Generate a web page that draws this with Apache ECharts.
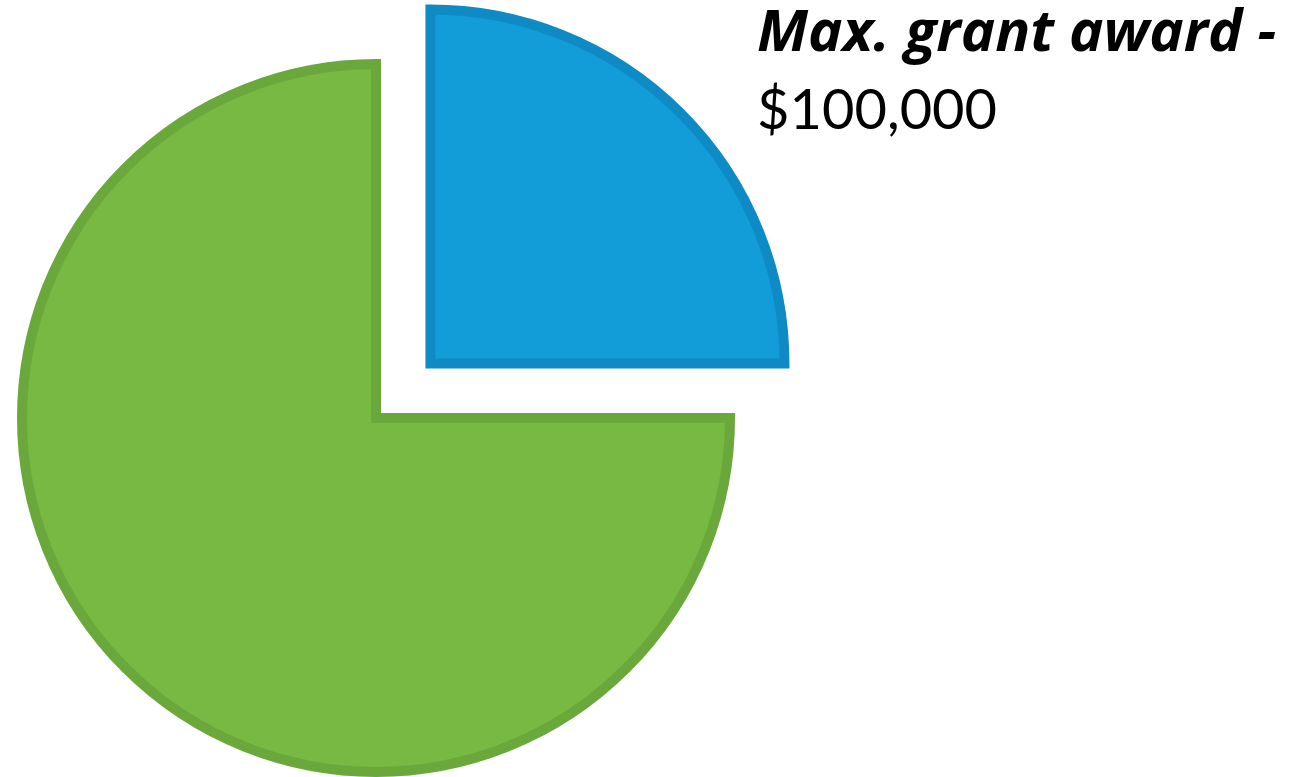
<!DOCTYPE html>
<html>
<head>
<meta charset="utf-8">
<script src="https://cdn.jsdelivr.net/npm/echarts@6/dist/echarts.min.js"></script>
<style>
html,body{margin:0;padding:0;background:#fff;}
#chart{width:1289px;height:777px;}
</style>
</head>
<body>
<div id="chart"></div>
<script>
const categories = ['Max. grant award', 'Other'];
const values = [100000, 300000];
const colors = ['#129dd8', '#77b943'];
const borderColors = ['#0e8bc4', '#6aa83b'];

const chart = echarts.init(document.getElementById('chart'), null, {renderer: 'canvas'});

const fmt = v => '$' + v.toLocaleString('en-US');

chart.setOption({
  animation: false,
  backgroundColor: '#ffffff',
  graphic: [
    {
      type: 'text',
      left: 757,
      top: 5,
      style: {
        text: categories[0] + ' -',
        font: 'italic bold 58px "Open Sans"',
        fill: '#000000'
      }
    },
    {
      type: 'text',
      left: 757,
      top: 83,
      style: {
        text: fmt(values[0]),
        font: '56px Lato',
        fill: '#000000'
      }
    }
  ],
  series: [{
    type: 'pie',
    center: [376, 418],
    radius: ['0%', 354],
    startAngle: 90,
    clockwise: true,
    selectedMode: 'single',
    selectedOffset: 77,
    silent: true,
    label: {show: false},
    labelLine: {show: false},
    emphasis: {disabled: true},
    data: categories.map((c, i) => ({
      name: c,
      value: values[i],
      selected: i === 0,
      itemStyle: {
        color: colors[i],
        borderColor: borderColors[i],
        borderWidth: 10,
        borderJoin: 'miter'
      }
    }))
  }]
});
</script>
</body>
</html>
